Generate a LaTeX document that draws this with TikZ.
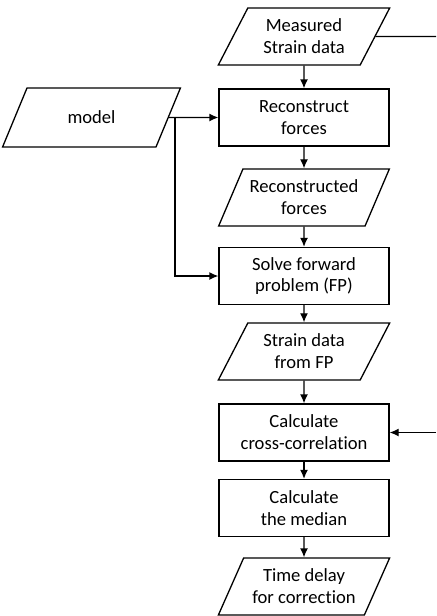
\documentclass[tikz,border=0pt]{standalone}
\usepackage{fontspec}
\setmainfont[Ligatures=NoCommon]{Carlito}
\usepackage{tikz}
\usetikzlibrary{shapes.geometric,arrows.meta,positioning,calc}

\tikzset{
  procbox/.style={draw, rectangle, minimum width=85pt, minimum height=28.5pt, align=center, inner sep=1pt},
  databox/.style={draw, trapezium, trapezium left angle=60, trapezium right angle=120,
    trapezium stretches=true, minimum width=86pt, minimum height=28.5pt, align=center, inner sep=1pt},
}

\begin{document}
\begin{tikzpicture}[x=0.5pt,y=-0.5pt,>={Latex[length=4.5pt,width=4pt]},line width=0.65pt,font=\fontsize{9.3}{10.9}\selectfont]
  \useasboundingbox (0,0) rectangle (436,616);
  % main chain
  \node[databox] (meas)   at (304,36.5)  {Measured\\Strain data};
  \node[procbox] (recon)  at (304,117.5) {Reconstruct\\forces};
  \node[databox] (recf)   at (304,197.5) {Reconstructed\\forces};
  \node[procbox] (solve)  at (304,276)   {Solve forward\\problem (FP)};
  \node[databox] (strfp)  at (304,351.5) {Strain data\\from FP};
  \node[procbox] (xcorr)  at (304,432.5) {Calculate\\cross-correlation};
  \node[procbox] (median) at (304,508)   {Calculate\\the median};
  \node[databox] (delay)  at (304,586.5) {Time delay\\for correction};
  % model input
  \node[databox, minimum width=89pt, minimum height=29.5pt] (model) at (91.5,117.5) {model};
  \coordinate (split) at (175,117.5);
  % measured data goes round to the correlation step
  \coordinate (measout) at (436,36.5);
  \coordinate (xcorrin) at (436,432.5);
  % connectors
  \foreach \a/\b in {meas/recon,recon/recf,recf/solve,solve/strfp,strfp/xcorr,xcorr/median,median/delay}
    \draw[->] (\a.south) -- (\b.north);
  \draw[->] (model.east) -- (recon.west);
  \draw[->] (split) |- (solve.west);
  \draw (meas.east) -- (measout);
  \draw[->] (xcorrin) -- (xcorr.east);
\end{tikzpicture}
\end{document}
